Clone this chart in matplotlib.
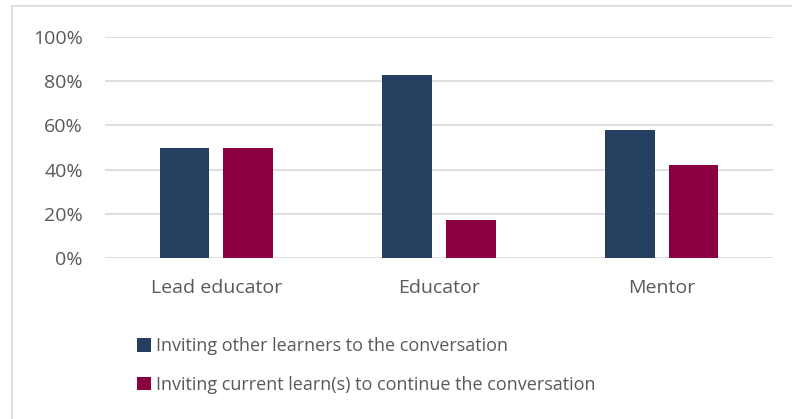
import numpy as np
import matplotlib.pyplot as plt
from matplotlib.patches import Rectangle
from matplotlib.ticker import PercentFormatter

plt.rcParams['font.family'] = ['Open Sans', 'DejaVu Sans']

categories = ['Lead educator', 'Educator', 'Mentor']
series_names = ['Inviting other learners to the conversation',
                'Inviting current learn(s) to continue the conversation']
other_learners = [50, 83, 58]
current_learners = [50, 17, 42]

navy = '#243F60'
maroon = '#8A0040'
text_col = '#595959'

fig = plt.figure(figsize=(7.92, 4.19), dpi=100)
ax = fig.add_axes([105 / 792, 1 - 258 / 419, 668 / 792, 221 / 419])

x = np.arange(len(categories))
w = 0.224
off = 0.143
b1 = ax.bar(x - off, other_learners, w, color=navy, zorder=3)
b2 = ax.bar(x + off, current_learners, w, color=maroon, zorder=3)

ax.set_xlim(-0.5, 2.5)
ax.set_ylim(0, 100)
ax.set_yticks(np.arange(0, 101, 20))
ax.yaxis.set_major_formatter(PercentFormatter(decimals=0))
ax.grid(axis='y', color='#D9D9D9', lw=1.2, zorder=0)
for s in ax.spines.values():
    s.set_visible(False)
ax.tick_params(length=0, labelsize=14, labelcolor=text_col)
ax.tick_params(axis='y', pad=16)
ax.tick_params(axis='x', pad=15)
ax.set_xticks(x)
ax.set_xticklabels(categories)

fig.legend([b1, b2], series_names, loc='upper left', bbox_to_anchor=(130 / 792, 1 - 330 / 419),
           frameon=False, fontsize=13, labelcolor=text_col, handlelength=0.75, handleheight=0.75,
           handletextpad=0.3, labelspacing=1.13, borderaxespad=0)

# chart area border
fig.patches.append(Rectangle((12 / 792, -0.1), 1.2, 1 - 6 / 419 + 0.1, transform=fig.transFigure,
                             fill=False, edgecolor='#D9D9D9', lw=1.2))

fig.savefig('out.png', dpi=100)
